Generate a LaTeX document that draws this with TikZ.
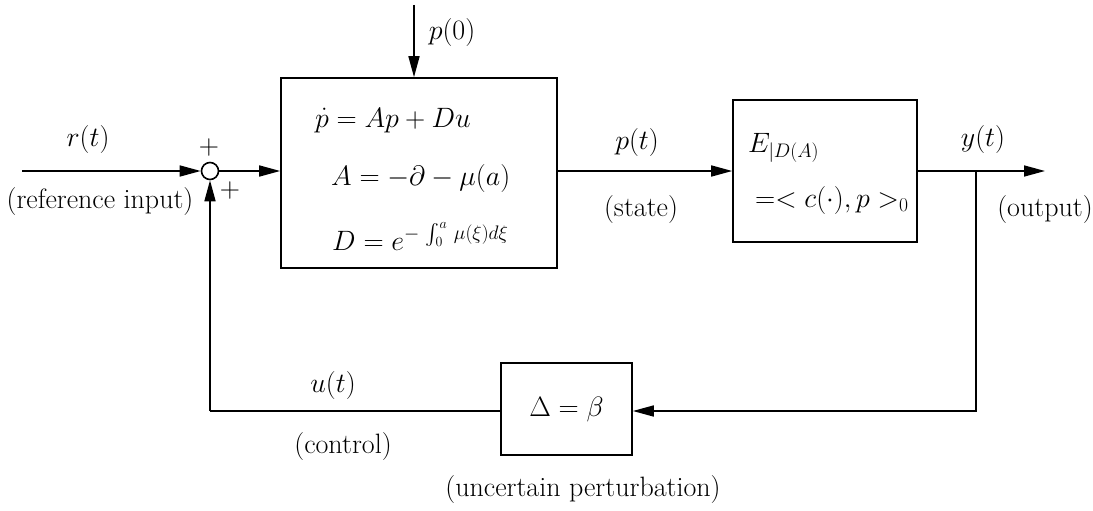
\RequirePackage{fix-cm}
\documentclass[tikz,border=0pt]{standalone}
\usepackage{exscale}
\usepackage{fontspec}
\usetikzlibrary{arrows.meta}
\begin{document}
\begin{tikzpicture}[x=1pt,y=-1pt,
  every node/.style={font=\fontsize{28}{33}\selectfont},
  blk/.style={draw,line width=1.6pt,inner sep=0pt},
  lbl/.style={inner sep=0pt},
  wire/.style={line width=1.6pt},
  arr/.style={wire,-{Triangle[length=21pt,width=11pt]}},
  sumnode/.style={draw,circle,line width=1.6pt,minimum size=17pt,inner sep=0pt}]
\useasboundingbox (0,0) rectangle (1093,511);
% blocks
\node[blk,minimum width=276pt,minimum height=190pt] (plant) at (419,173) {};
\node[blk,minimum width=184pt,minimum height=142pt] (meas) at (825,171) {};
\node[blk,minimum width=131pt,minimum height=92pt] (delta) at (566.5,409) {$\Delta=\beta$};
\node[sumnode] (sum) at (210,171) {};
% block contents
\node[lbl,anchor=base west] (eq1) at (315,127) {$\dot p = Ap + Du$};
\node[lbl,anchor=base west] (eq2) at (331,185) {$A = -\partial - \mu(a)$};
\node[lbl,anchor=base west] (eq3) at (332,250) {$D = e^{-\,\int_0^a \,\mu(\xi)d\xi}$};
\node[lbl,anchor=base west] (eq4) at (748,152) {$E_{|D(A)}$};
\node[lbl,anchor=base west] (eq5) at (755,207) {$=< c(\cdot), p >_0$};
% coordinates
\coordinate (in) at (22,171);
\coordinate (p0) at (414,5);
\coordinate (out) at (1045,171);
\coordinate (tap) at (976,171);
\coordinate (tapdown) at (976,411);
\coordinate (fbcorner) at (210,411);
% connectors
\draw[arr] (in) -- (sum.west);
\draw[arr] (sum.east) -- (sum.east -| plant.west);
\draw[arr] (p0) -- (p0 |- plant.north);
\draw[arr] (plant.east |- meas.west) -- (meas.west);
\draw[arr] (meas.east) -- (out);
\draw[arr] (tap) -- (tapdown) -- (tapdown -| delta.east);
\draw[wire] (delta.west |- fbcorner) -- (fbcorner);
\draw[arr] (fbcorner) -- (sum.south);
% labels
\node[lbl] (lr) at (88,140) {$r(t)$};
\node[lbl] (lref) at (100,202) {(reference input)};
\node[lbl] (lplus1) at (209,148) {$+$};
\node[lbl] (lplus2) at (230,190) {$+$};
\node[lbl] (lp0) at (452,33) {$p(0)$};
\node[lbl] (lpt) at (637,143) {$p(t)$};
\node[lbl] (lstate) at (641,210) {(state)};
\node[lbl] (lyt) at (983,140) {$y(t)$};
\node[lbl] (lout) at (1045,210) {(output)};
\node[lbl] (lut) at (333,385) {$u(t)$};
\node[lbl] (lctrl) at (343,447) {(control)};
\node[lbl] (lunc) at (583,490) {(uncertain perturbation)};
\end{tikzpicture}
\end{document}
